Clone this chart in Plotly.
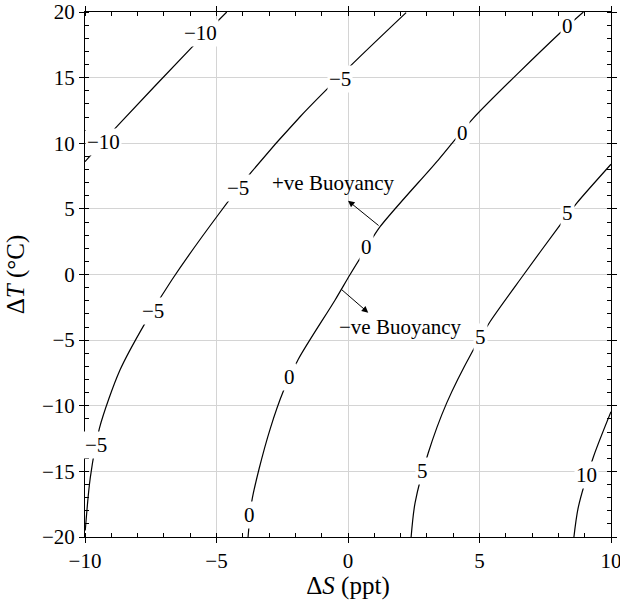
import plotly.graph_objects as go

levels = [-10, -5, 0, 5, 10]

s_m10 = [-10.0, -8.73, -5.94, -4.61]
t_m10 = [8.6, 11.4, 17.3, 20.0]

s_m5 = [-9.99, -9.80, -9.45, -8.67, -7.72, -6.70, -4.99, -3.66, -1.83, 0.20, 2.21]
t_m5 = [-19.5, -15.5, -11.7, -7.28, -3.72, -0.42, 4.4, 7.83, 12.0, 16.1, 19.95]

s_0 = [-3.80, -3.66, -3.38, -2.95, -2.46, -1.89, -0.49, 0.08, 0.65, 1.22, 3.43, 4.76, 8.06, 8.95]
t_0 = [-20.0, -17.3, -14.8, -11.7, -8.9, -6.46, -1.94, 0.0, 1.85, 3.64, 8.72, 11.9, 18.4, 20.0]

s_5 = [2.40, 2.55, 3.05, 3.75, 4.76, 5.40, 6.67, 8.06, 8.69, 10.0]
t_5 = [-20.0, -17.4, -13.6, -9.8, -5.75, -3.6, -0.04, 3.77, 5.42, 8.4]

s_10 = [8.59, 8.76, 9.33, 10.0]
t_10 = [-20.0, -17.7, -13.9, -10.45]

# Inline contour label positions
label_text = ["−10", "−10", "−5", "−5", "−5", "−5", "0", "0", "0", "0", "0", "5", "5", "5", "10"]
label_s = [-9.30, -5.59, -9.58, -7.43, -4.17, -0.30, -3.76, -2.21, 0.71, 4.36, 8.35, 2.83, 5.02, 8.35, 9.07]
label_t = [10.1, 18.4, -13.0, -2.78, 6.6, 14.9, -18.3, -7.8, 2.12, 10.8, 18.9, -15.0, -4.74, 4.66, -15.3]

# Buoyancy arrows: tail (on the 0 contour) -> head
arrow_text = ["+ve Buoyancy", "−ve Buoyancy"]
arrow_tail_s = [1.22, -0.30]
arrow_tail_t = [3.64, -1.05]
arrow_head_s = [0.0, 0.77]
arrow_head_t = [5.62, -2.91]
arrow_text_s = [-0.56, 2.0]
arrow_text_t = [6.95, -3.98]

FONT = "Liberation Serif"

fig = go.Figure()
for s, t in [(s_m10, t_m10), (s_m5, t_m5), (s_0, t_0), (s_5, t_5), (s_10, t_10)]:
    fig.add_trace(go.Scatter(x=s, y=t, mode="lines",
                             line=dict(color="black", width=1.2, shape="spline", smoothing=0.8),
                             hoverinfo="skip", showlegend=False))

annotations = []
for txt, s, t in zip(label_text, label_s, label_t):
    annotations.append(dict(x=s, y=t, xref="x", yref="y", text=txt, showarrow=False,
                            bgcolor="white", borderpad=1,
                            font=dict(family=FONT, size=21, color="black")))
for i in range(2):
    annotations.append(dict(x=arrow_head_s[i], y=arrow_head_t[i], xref="x", yref="y",
                            ax=arrow_tail_s[i], ay=arrow_tail_t[i], axref="x", ayref="y",
                            text="", showarrow=True, arrowhead=2, arrowsize=1.3,
                            arrowwidth=1, arrowcolor="black", standoff=0, startstandoff=0))
    annotations.append(dict(x=arrow_text_s[i], y=arrow_text_t[i], xref="x", yref="y",
                            text=arrow_text[i], showarrow=False,
                            font=dict(family=FONT, size=21, color="black")))

axis_common = dict(
    automargin=False,
    showline=True, linecolor="black", linewidth=1, mirror="ticks",
    ticks="outside", ticklen=5, tickcolor="black", tickwidth=1,
    dtick=5, tick0=0, ticklabeloverflow="allow",
    minor=dict(dtick=1, ticks="inside", ticklen=4, tickcolor="black", showgrid=False),
    showgrid=True, gridcolor="#d4d4d4", gridwidth=1, zeroline=False,
    tickfont=dict(family=FONT, size=21, color="black"),
)

fig.update_layout(
    width=620, height=600,
    margin=dict(l=85, r=9, t=12, b=63),
    paper_bgcolor="white", plot_bgcolor="white",
    xaxis=dict(range=[-10, 10], title=dict(text="Δ<i>S</i> (ppt)", standoff=4,
               font=dict(family=FONT, size=25, color="black")), **axis_common),
    yaxis=dict(range=[-20, 20], title=dict(text="Δ<i>T</i> (°C)", standoff=10,
               font=dict(family=FONT, size=25, color="black")), **axis_common),
    annotations=annotations,
)

fig.write_html("out.html", config={"displayModeBar": False},
               post_script="document.body.style.margin='0px';")
